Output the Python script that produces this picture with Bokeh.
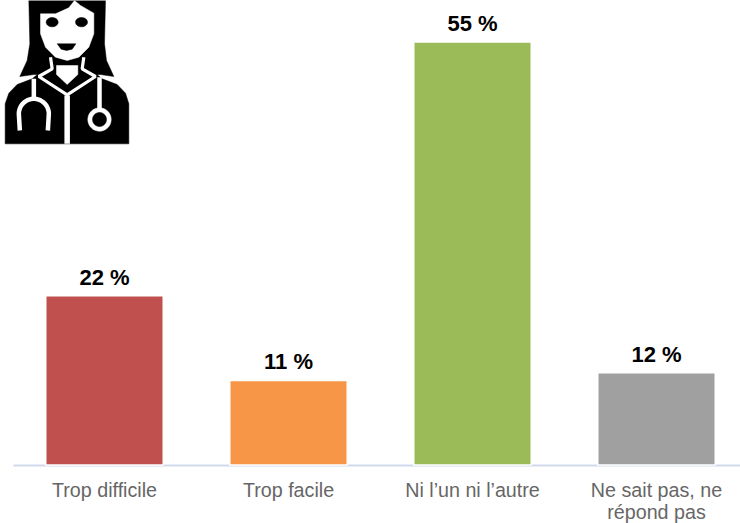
from bokeh.plotting import figure
from bokeh.models import Range1d, LinearAxis, FixedTicker, ColumnDataSource
from bokeh.core.properties import value
from bokeh.embed import file_html
from bokeh.resources import INLINE
import numpy as np

categories = ["Trop difficile", "Trop facile", "Ni l\u2019un ni l\u2019autre", "Ne sait pas, ne\nr\u00e9pond pas"]
values = [22, 11, 55, 12]
colors = ["#C0504D", "#F79646", "#9BBB59", "#A0A0A0"]
labels = ["22 %", "11 %", "55 %", "12 %"]

W, H = 740, 523
PXX = 184.0
PXY = 423 / 55
BASE = 464.5

p = figure(width=W, height=H, output_backend="svg", toolbar_location=None,
           x_range=Range1d(-104 / PXX, (W - 104) / PXX),
           y_range=Range1d(-(H - BASE) / PXY, BASE / PXY),
           min_border_left=0, min_border_right=0, min_border_top=0, min_border_bottom=0,
           x_axis_location=None, y_axis_location=None,
           styles={"position": "absolute", "left": "0px", "top": "0px"})
p.outline_line_color = None
p.grid.visible = False
p.background_fill_color = "white"

axis = LinearAxis(ticker=FixedTicker(ticks=list(range(len(categories)))),
                  major_label_overrides={i: c for i, c in enumerate(categories)},
                  fixed_location=0)
axis.axis_line_color = "#D0D9EC"
axis.axis_line_width = 2
axis.major_tick_line_color = None
axis.minor_tick_line_color = None
axis.major_label_text_color = "#666666"
axis.major_label_text_font = "Liberation Sans"
axis.major_label_text_font_size = "19.7px"
axis.major_label_text_line_height = 1.0
axis.major_label_standoff = 8
axis.bounds = (-91 / PXX, (W - 104) / PXX)
p.add_layout(axis, "below")

src = ColumnDataSource(dict(x=list(range(4)), top=values, color=colors, label=labels))
p.vbar(x="x", top="top", bottom=0, width=117.5 / PXX, source=src, fill_color="color",
       line_color="white", line_width=1.5, level="overlay")
p.text(x="x", y="top", text="label", source=src, text_align="center", text_baseline="bottom",
       text_font=value("Liberation Sans"), text_font_style="bold", text_font_size="22px",
       text_color="black", y_offset=-6)

# Pictogram, drawn in pixel space
p.extra_x_ranges["px"] = Range1d(0, W)
p.extra_y_ranges["py"] = Range1d(H, 0)
def poly(pts, color):
    a = np.array(pts, float) / 3
    p.patch(a[:, 0], a[:, 1], fill_color=color, line_color=color, line_width=0.5,
            x_range_name="px", y_range_name="py")
def stroke(pts, w, color="white"):
    a = np.array(pts, float) / 3
    p.line(a[:, 0], a[:, 1], line_color=color, line_width=w, x_range_name="px", y_range_name="py")
def circle(cx, cy, r, color):
    t = np.linspace(0, 2 * np.pi, 60)
    poly(np.c_[cx + r * np.cos(t), cy + r * np.sin(t)], color)

poly([(85, 0), (315, 0), (312, 130), (318, 180), (340, 228), (300, 222), (100, 222), (58, 228), (80, 180), (88, 130)], "black")
poly([(14, 430), (14, 310), (25, 278), (50, 252), (95, 235), (150, 190), (250, 190), (305, 235), (350, 252), (375, 278), (385, 310), (385, 430)], "black")
poly([(120, 40), (165, 40), (205, 22), (222, 0), (240, 15), (280, 38), (280, 100), (265, 140), (235, 170), (200, 180), (165, 170), (135, 140), (120, 100)], "white")
t = np.linspace(0, 2 * np.pi, 40)
poly(np.c_[155 + 18 * np.cos(t), 65 + 14 * np.sin(t)], "black")
poly(np.c_[243 + 18 * np.cos(t), 65 + 14 * np.sin(t)], "black")
poly([(170, 130), (198, 130), (226, 130), (215, 146), (198, 150), (182, 146)], "black")
poly([(168, 195), (232, 195), (232, 222), (200, 252), (168, 222)], "white")
stroke([(150, 170), (155, 205), (115, 228), (200, 283), (285, 228), (245, 205), (250, 170)], 3.2)
stroke([(200, 285), (200, 430)], 5.5)
stroke([(100, 235), (100, 298)], 4.5)
u = np.linspace(np.pi, 2 * np.pi, 30)
stroke(np.r_[[(58, 390)], np.c_[100 + 45 * np.cos(u), 340 + 45 * np.sin(u)], [(142, 390)]], 4.5)
stroke([(297, 230), (297, 330)], 4.5)
circle(297, 357, 35, "white")
circle(297, 357, 21, "black")

open("out.html", "w").write(file_html(p, INLINE))
